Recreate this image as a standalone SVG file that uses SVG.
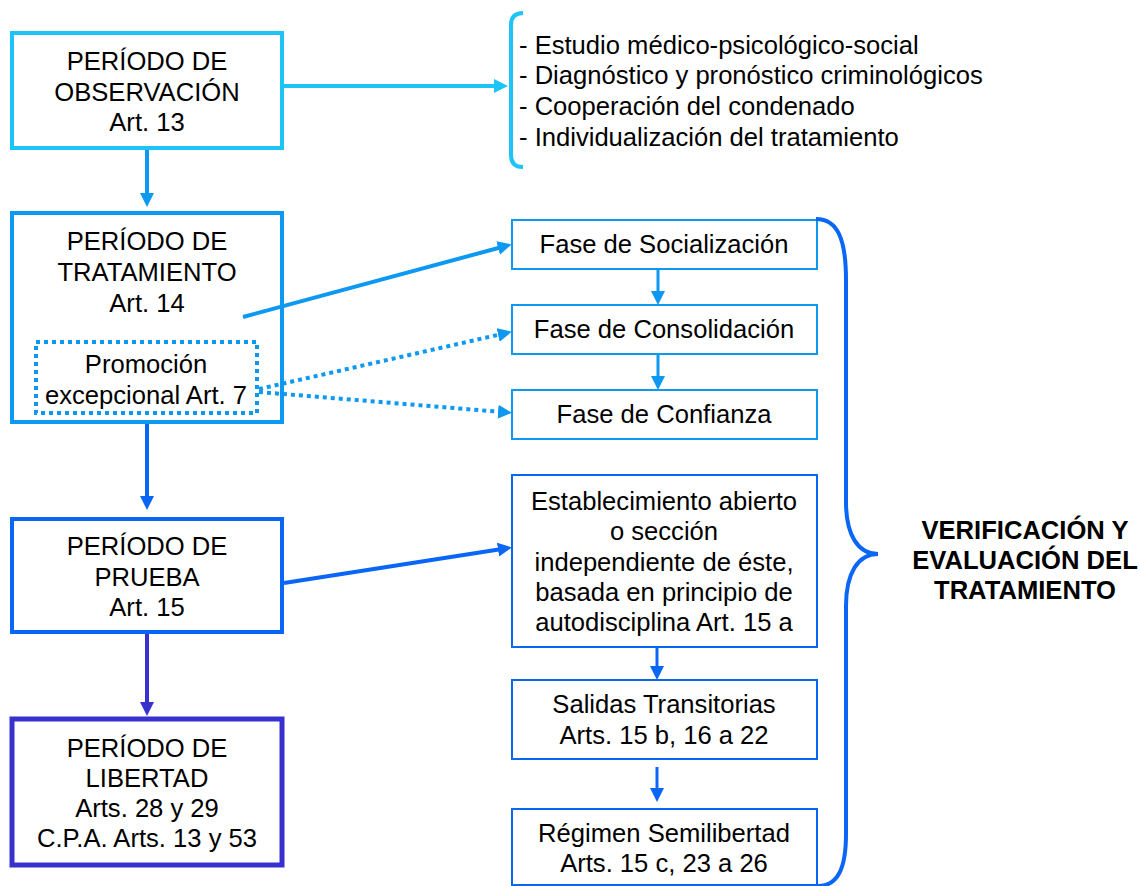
<svg xmlns="http://www.w3.org/2000/svg" width="1140" height="886" viewBox="0 0 1140 886">
<style>
text{font-family:"Liberation Sans",Arial,sans-serif;font-size:25.6px;fill:#000}
.c{text-anchor:middle}
.b{font-weight:bold}
.box{fill:#fff}
</style>
<defs>
<marker id="mCyan" markerUnits="userSpaceOnUse" markerWidth="14" markerHeight="14" refX="4" refY="7" orient="auto"><path d="M0,0 L14,7 L0,14 z" fill="#1EC3F7"/></marker>
<marker id="mSky" markerUnits="userSpaceOnUse" markerWidth="14" markerHeight="14" refX="4" refY="7" orient="auto"><path d="M0,0 L14,7 L0,14 z" fill="#0D98F2"/></marker>
<marker id="mBlue" markerUnits="userSpaceOnUse" markerWidth="14" markerHeight="14" refX="4" refY="7" orient="auto"><path d="M0,0 L14,7 L0,14 z" fill="#0A66F5"/></marker>
<marker id="mInd" markerUnits="userSpaceOnUse" markerWidth="14" markerHeight="14" refX="4" refY="7" orient="auto"><path d="M0,0 L14,7 L0,14 z" fill="#3732CD"/></marker>
</defs>
<rect width="1140" height="886" fill="#fff"/>

<g id="observacion">
<rect class="box" x="12" y="33" width="270" height="115" stroke="#1EC3F7" stroke-width="4"/>
<text class="c" x="147" y="70">PERÍODO DE</text>
<text class="c" x="147" y="101">OBSERVACIÓN</text>
<text class="c" x="147" y="131">Art. 13</text>
</g>

<g id="objetivos">
<path d="M523,13 Q511,13 511,25 L511,155 Q511,167 523,167" fill="none" stroke="#1EC3F7" stroke-width="4"/>
<text x="519" y="54">- Estudio médico-psicológico-social</text>
<text x="519" y="84">- Diagnóstico y pronóstico criminológicos</text>
<text x="519" y="115">- Cooperación del condenado</text>
<text x="519" y="146">- Individualización del tratamiento</text>
</g>

<g id="tratamiento">
<rect class="box" x="12" y="213" width="270" height="209" stroke="#0D98F2" stroke-width="4"/>
<text class="c" x="147" y="250">PERÍODO DE</text>
<text class="c" x="147" y="281">TRATAMIENTO</text>
<text class="c" x="147" y="312">Art. 14</text>
</g>

<g id="promocion">
<rect x="36" y="342" width="221" height="71" fill="none" stroke="#0D98F2" stroke-width="4" stroke-dasharray="4 4"/>
<text class="c" x="146" y="373">Promoción</text>
<text class="c" x="146" y="404">excepcional Art. 7</text>
</g>

<g id="prueba">
<rect class="box" x="12" y="519" width="270" height="113" stroke="#0A66F5" stroke-width="4"/>
<text class="c" x="147" y="555">PERÍODO DE</text>
<text class="c" x="147" y="586">PRUEBA</text>
<text class="c" x="147" y="616">Art. 15</text>
</g>

<g id="libertad">
<rect class="box" x="12" y="719" width="270" height="146" stroke="#3732CD" stroke-width="5"/>
<text class="c" x="147" y="757">PERÍODO DE</text>
<text class="c" x="147" y="787">LIBERTAD</text>
<text class="c" x="147" y="817">Arts. 28 y 29</text>
<text class="c" x="147" y="847">C.P.A. Arts. 13 y 53</text>
</g>

<g id="socializacion">
<rect class="box" x="512" y="220" width="305" height="49" stroke="#0D98F2" stroke-width="2"/>
<text class="c" x="664" y="253">Fase de Socialización</text>
</g>

<g id="consolidacion">
<rect class="box" x="512" y="305" width="305" height="49" stroke="#0D98F2" stroke-width="2"/>
<text class="c" x="664" y="338">Fase de Consolidación</text>
</g>

<g id="confianza">
<rect class="box" x="512" y="390" width="305" height="49" stroke="#0D98F2" stroke-width="2"/>
<text class="c" x="664" y="423">Fase de Confianza</text>
</g>

<g id="establecimiento">
<rect class="box" x="512" y="475" width="305" height="172" stroke="#0A66F5" stroke-width="2"/>
<text class="c" x="664" y="510">Establecimiento abierto</text>
<text class="c" x="664" y="540">o sección</text>
<text class="c" x="664" y="571">independiente de éste,</text>
<text class="c" x="664" y="601">basada en principio de</text>
<text class="c" x="664" y="631">autodisciplina Art. 15 a</text>
</g>

<g id="salidas">
<rect class="box" x="512" y="680" width="305" height="79" stroke="#0A66F5" stroke-width="2"/>
<text class="c" x="664" y="713">Salidas Transitorias</text>
<text class="c" x="664" y="744">Arts. 15 b, 16 a 22</text>
</g>

<g id="semilibertad">
<rect class="box" x="512" y="809" width="305" height="76" stroke="#0A66F5" stroke-width="2"/>
<text class="c" x="664" y="842">Régimen Semilibertad</text>
<text class="c" x="664" y="872">Arts. 15 c, 23 a 26</text>
</g>

<g id="verificacion">
<path d="M816,219 C838,219 846,240 846,280 L846,502 C846,535 858,554 878,554 C858,554 846,573 846,606 L846,834 C846,868 838,886 818,886" fill="none" stroke="#0A66F5" stroke-width="4"/>
<text class="c b" x="1025" y="539">VERIFICACIÓN Y</text>
<text class="c b" x="1025" y="569">EVALUACIÓN DEL</text>
<text class="c b" x="1025" y="599">TRATAMIENTO</text>
</g>

<g id="connectors" fill="none">
<line x1="147" y1="150" x2="147" y2="197" stroke="#0D98F2" stroke-width="4" marker-end="url(#mSky)"/>
<line x1="284" y1="86" x2="498" y2="86" stroke="#1EC3F7" stroke-width="4" marker-end="url(#mCyan)"/>
<line x1="147" y1="424" x2="147" y2="500" stroke="#0A66F5" stroke-width="4" marker-end="url(#mBlue)"/>
<line x1="147" y1="634" x2="147" y2="706" stroke="#3732CD" stroke-width="4" marker-end="url(#mInd)"/>
<line x1="243" y1="317" x2="502" y2="247" stroke="#0D98F2" stroke-width="4" marker-end="url(#mSky)"/>
<line x1="259" y1="389" x2="502" y2="334" stroke="#0D98F2" stroke-width="4" stroke-dasharray="4 4" marker-end="url(#mSky)"/>
<line x1="259" y1="392" x2="502" y2="412" stroke="#0D98F2" stroke-width="4" stroke-dasharray="4 4" marker-end="url(#mSky)"/>
<line x1="284" y1="583" x2="502" y2="549" stroke="#0A66F5" stroke-width="4" marker-end="url(#mBlue)"/>
<line x1="658" y1="270" x2="658" y2="295" stroke="#0D98F2" stroke-width="3" marker-end="url(#mSky)"/>
<line x1="658" y1="355" x2="658" y2="380" stroke="#0D98F2" stroke-width="3" marker-end="url(#mSky)"/>
<line x1="657" y1="648" x2="657" y2="670" stroke="#0A66F5" stroke-width="3" marker-end="url(#mBlue)"/>
<line x1="657" y1="767" x2="657" y2="792" stroke="#0A66F5" stroke-width="3" marker-end="url(#mBlue)"/>
</g>
</svg>
